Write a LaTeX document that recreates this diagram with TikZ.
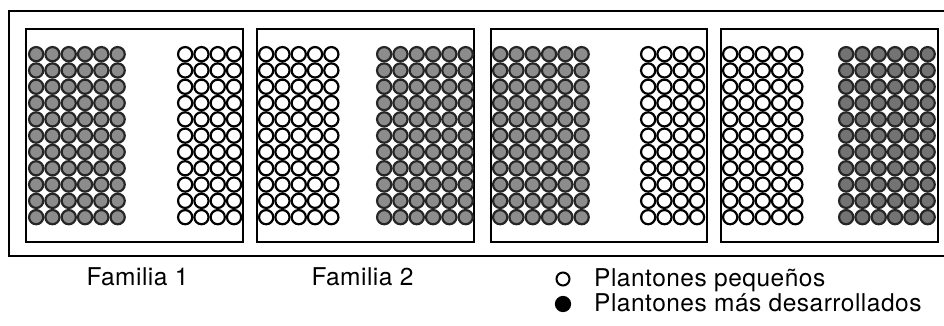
\documentclass[tikz,border=0pt]{standalone}
\usepackage{fontspec}
\setmainfont{TeX Gyre Heros}[LetterSpace=2]
\usepackage{tikz}

\begin{document}
\begin{tikzpicture}[
		x=1pt, y=-1pt,
		marco/.style={line width=2pt},
		panel/.style={line width=1.9pt},
		chico/.style={draw=black, line width=2.2pt, fill=white},
		grande/.style={draw=black!85, line width=2.2pt, fill=black!45},
		oscuro/.style={grande, fill=black!55},
		etiqueta/.style={anchor=base, inner sep=0pt, font=\fontsize{24.5}{27}\selectfont},
		leyenda/.style={anchor=base west, inner sep=0pt, font=\fontsize{24.5}{27}\selectfont}]

		\useasboundingbox (0,0) rectangle (944,325);

		\draw[marco] (9,11) rectangle (948,256);
		\foreach \px/\pw in {26/217, 257/217, 491/216, 721/217}
			\draw[panel] (\px,29) rectangle ++(\pw,213);

		\foreach \gx/\gn/\gs in {28/6/grande, 177/4/chico, 258/5/chico, 376/6/grande,
			492/6/grande, 640/4/chico, 722/5/chico, 838/6/oscuro}
			\foreach \c in {1,...,\gn}
				\foreach \r in {0,...,10}
					\draw[\gs] ({\gx + 16.3*\c - 8.15}, {54.15 + 16.3*\r}) circle (7.1);

		\node[etiqueta] (fam1) at (137.5,285.5) {Familia 1};
		\node[etiqueta] (fam2) at (362.5,285.5) {Familia 2};

		\node[chico, line width=2pt, circle, minimum size=13pt, inner sep=0pt] (sim1) at (563,279) {};
		\node[grande, draw=black, fill=black, circle, minimum size=14pt, inner sep=0pt] (sim2) at (563,304) {};
		\node[leyenda] (ley1) at (594,286) {Plantones pequeños};
		\node[leyenda] (ley2) at (594,311) {Plantones más desarrollados};

\end{tikzpicture}
\end{document}
